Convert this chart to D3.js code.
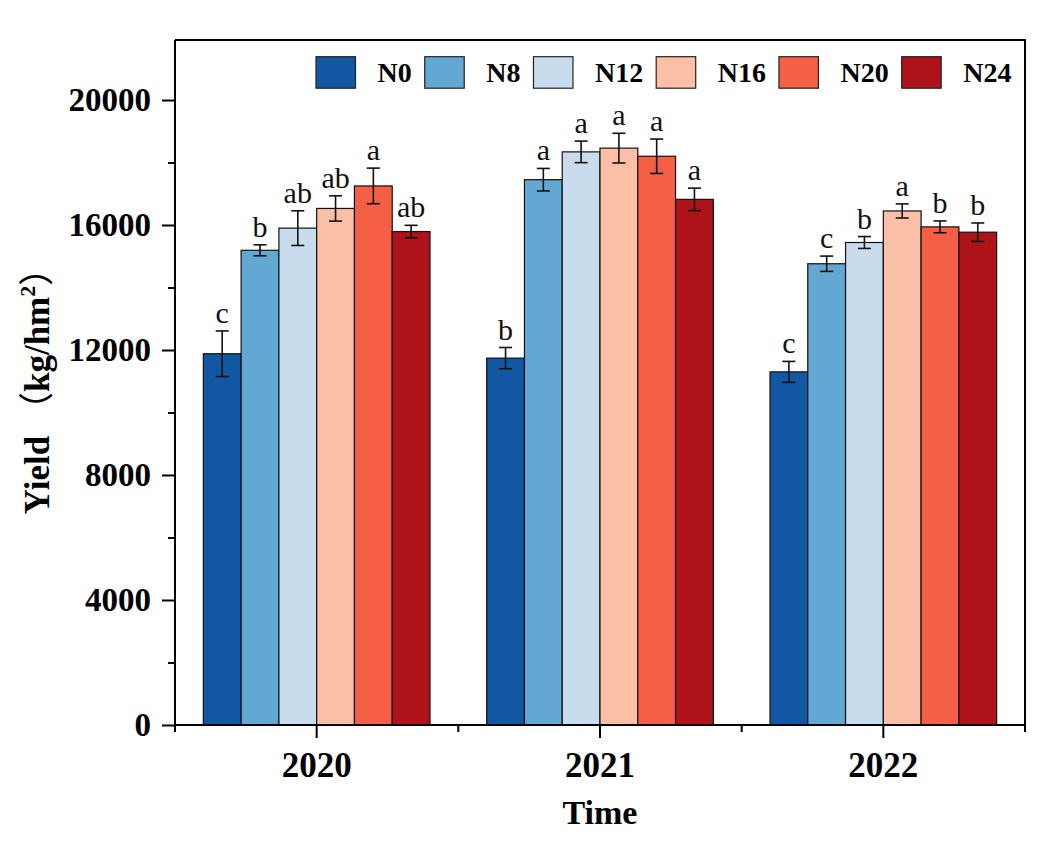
<!DOCTYPE html>
<html>
<head>
<meta charset="utf-8">
<script src="https://cdn.jsdelivr.net/npm/d3@7"></script>
<style>
  html, body { margin: 0; padding: 0; background: #fff; }
  svg { display: block; }
  text { font-family: "Times New Roman", "Liberation Serif", "Noto Sans CJK SC", serif; }
</style>
</head>
<body>
<svg id="chart" width="1054" height="845"></svg>
<script>
// ---- data ----
const years = ["2020", "2021", "2022"];
const series = ["N0", "N8", "N12", "N16", "N20", "N24"];
const colors = ["#1257a1", "#63a7d3", "#c8dcee", "#fbbea6", "#f55f45", "#ad1319"];

const yield2020 = [11880, 15190, 15900, 16530, 17250, 15790];
const err2020   = [730, 175, 555, 405, 570, 200];
const letters2020 = ["c", "b", "ab", "ab", "a", "ab"];

const yield2021 = [11740, 17450, 18340, 18460, 18200, 16820];
const err2021   = [340, 360, 345, 475, 550, 360];
const letters2021 = ["b", "a", "a", "a", "a", "a"];

const yield2022 = [11300, 14760, 15440, 16450, 15940, 15770];
const err2022   = [335, 245, 190, 225, 190, 295];
const letters2022 = ["c", "c", "b", "a", "b", "b"];

const yTicks = [0, 4000, 8000, 12000, 16000, 20000];
const yMinorTicks = [2000, 6000, 10000, 14000, 18000];

const valuesByYear = [yield2020, yield2021, yield2022];
const errByYear = [err2020, err2021, err2022];
const lettersByYear = [letters2020, letters2021, letters2022];

const rows = [];
years.forEach((yr, i) => {
  series.forEach((s, j) => {
    rows.push({ year: yr, series: s, value: valuesByYear[i][j], err: errByYear[i][j], letter: lettersByYear[i][j] });
  });
});

// ---- layout ----
const svg = d3.select("#chart");
const pLeft = 175, pRight = 1025, pTop = 40, pBottom = 725;

const x = d3.scaleBand().domain(years).range([pLeft, pRight]).paddingInner(0).paddingOuter(0);
const bw = x.bandwidth();
const xs = d3.scaleBand().domain(series).range([bw * 0.1, bw * 0.9]).padding(0);
const y = d3.scaleLinear().domain([0, 21920]).range([pBottom, pTop]);
const color = d3.scaleOrdinal().domain(series).range(colors);

// frame (top & right)
svg.append("path")
  .attr("d", `M${pLeft},${pTop}H${pRight}V${pBottom}`)
  .attr("fill", "none").attr("stroke", "#000").attr("stroke-width", 2);

// bars
const g = svg.append("g");
g.selectAll("rect.bar").data(rows).join("rect")
  .attr("class", "bar")
  .attr("x", d => x(d.year) + xs(d.series))
  .attr("y", d => y(d.value))
  .attr("width", xs.bandwidth())
  .attr("height", d => y(0) - y(d.value))
  .attr("fill", d => color(d.series))
  .attr("stroke", "#111").attr("stroke-width", 1.2);

// error bars
const cap = 6.5;
const eb = g.selectAll("g.err").data(rows).join("g").attr("class", "err")
  .attr("transform", d => `translate(${x(d.year) + xs(d.series) + xs.bandwidth() / 2},0)`);
eb.append("line").attr("x1", 0).attr("x2", 0)
  .attr("y1", d => y(d.value - d.err)).attr("y2", d => y(d.value + d.err))
  .attr("stroke", "#111").attr("stroke-width", 1.6);
eb.append("line").attr("x1", -cap).attr("x2", cap)
  .attr("y1", d => y(d.value + d.err)).attr("y2", d => y(d.value + d.err))
  .attr("stroke", "#111").attr("stroke-width", 1.6);
eb.append("line").attr("x1", -cap).attr("x2", cap)
  .attr("y1", d => y(d.value - d.err)).attr("y2", d => y(d.value - d.err))
  .attr("stroke", "#111").attr("stroke-width", 1.6);
eb.append("text")
  .attr("x", 0).attr("y", d => y(d.value + d.err) - 8)
  .attr("text-anchor", "middle")
  .attr("font-size", 30).attr("fill", "#111")
  .text(d => d.letter);

// y axis
const yAxis = svg.append("g").attr("transform", `translate(${pLeft},0)`)
  .call(d3.axisLeft(y).tickValues(yTicks).tickSize(13).tickSizeOuter(0).tickPadding(11).tickFormat(d3.format("d")));
yAxis.select(".domain").attr("d", `M0,${pBottom}V${pTop}`).attr("stroke-width", 2);
yAxis.selectAll(".tick line").attr("stroke-width", 2);
yAxis.selectAll(".tick text").attr("font-size", 33).attr("font-weight", "bold")
  .attr("fill", "#000").attr("font-family", "'Times New Roman','Liberation Serif',serif");
svg.append("g").attr("transform", `translate(${pLeft},0)`)
  .call(d3.axisLeft(y).tickValues(yMinorTicks).tickSize(7).tickFormat(""))
  .call(a => a.select(".domain").remove())
  .selectAll(".tick line").attr("stroke-width", 2);

// x axis
const xAxis = svg.append("g").attr("transform", `translate(0,${pBottom})`)
  .call(d3.axisBottom(x).tickSize(13).tickSizeOuter(0).tickPadding(14));
xAxis.select(".domain").attr("d", `M${pLeft},0H${pRight}`).attr("stroke-width", 2);
xAxis.selectAll(".tick line").attr("stroke-width", 2);
xAxis.selectAll(".tick text").attr("font-size", 35).attr("font-weight", "bold")
  .attr("fill", "#000").attr("font-family", "'Times New Roman','Liberation Serif',serif");
const xMinor = years.map(yr => x(yr)).concat([pRight]);
svg.append("g").selectAll("line").data(xMinor).join("line")
  .attr("x1", d => d).attr("x2", d => d)
  .attr("y1", pBottom).attr("y2", pBottom + 7)
  .attr("stroke", "#000").attr("stroke-width", 2);

// axis titles
svg.append("text")
  .attr("x", (pLeft + pRight) / 2).attr("y", 824)
  .attr("text-anchor", "middle").attr("font-size", 34).attr("font-weight", "bold")
  .text("Time");

const yt = svg.append("text")
  .attr("transform", `translate(49,${(pTop + pBottom) / 2}) rotate(-90)`)
  .attr("text-anchor", "middle").attr("font-size", 35).attr("font-weight", "bold");
yt.append("tspan").text("Yield ");
yt.append("tspan").attr("font-family", "'Noto Sans CJK SC'").attr("font-weight", "normal").text("（");
yt.append("tspan").text("kg/hm");
yt.append("tspan").attr("font-size", 22).attr("dy", -14).text("2");
yt.append("tspan").attr("dy", 14).attr("font-family", "'Noto Sans CJK SC'").attr("font-weight", "normal").text("）");

// legend
const leg = svg.append("g");
let cx = 0;
series.forEach((s, i) => {
  const it = leg.append("g").attr("transform", `translate(${cx},0)`);
  it.append("rect").attr("x", 0).attr("y", 56.7).attr("width", 39.5).attr("height", 31.5)
    .attr("fill", colors[i]).attr("stroke", "#222").attr("stroke-width", 1.2);
  const t = it.append("text").attr("x", 61.5).attr("y", 82.3)
    .attr("font-size", 28).attr("font-weight", "bold").text(s);
  const w = t.node().getComputedTextLength();
  cx += 61.5 + w + 13;
});
const legEnd = cx - 13;
leg.attr("transform", `translate(${Math.min(316, 1012 - legEnd)},0)`);
</script>
</body>
</html>
